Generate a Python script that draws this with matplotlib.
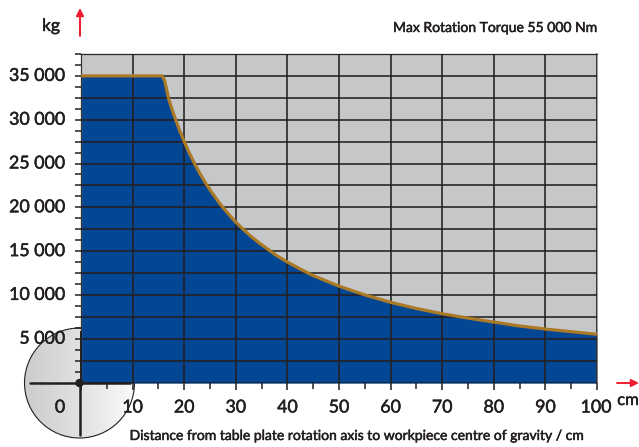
import numpy as np
import matplotlib
matplotlib.use('Agg')
import matplotlib.pyplot as plt
import matplotlib.patheffects as pe
from matplotlib.patches import Circle

plt.rcParams['font.family'] = ['Lato', 'DejaVu Sans']

# values
dist = [0, 10, 15, 15.7, 16.2, 17, 18, 19, 20, 21, 22, 23, 24, 25, 26, 27, 28, 29, 30, 31.5, 33, 34.5, 36, 38, 40, 42.5, 45, 47.5,
        50, 55, 60, 65, 70, 75, 80, 85, 90, 95, 100]
load = [35000, 35000, 35000, 35000, 34500, 32350, 30550, 28950, 27500, 26200, 25000, 23900, 22900, 22000, 21150, 20350, 19650,
        18950, 18300, 17450, 16650, 15950, 15300, 14450, 13750, 12950, 12200, 11600,
        11000, 10000, 9150, 8450, 7850, 7350, 6900, 6450, 6100, 5800, 5500]
xticks = [0, 10, 20, 30, 40, 50, 60, 70, 80, 90, 100]
yticks = [5000, 10000, 15000, 20000, 25000, 30000, 35000]
ylabels = ['5 000', '10 000', '15 000', '20 000', '25 000', '30 000', '35 000']

W, H = 639, 447
dark = '#231f20'
fig = plt.figure(figsize=(W / 100, H / 100), dpi=100)

# pixel coordinate layer for the disc, y goes down
bg = fig.add_axes([0, 0, 1, 1], zorder=0)
bg.axis('off')

grad = np.linspace(0, 1, 256).reshape(1, -1)
im = bg.imshow(grad, extent=(25, 135, 439, 328), cmap=matplotlib.colors.LinearSegmentedColormap.from_list(
    'disc', ['#cbccce', '#e0e1e2', '#fafafa']), aspect='auto', zorder=1)
clip = Circle((79.5, 383), 55, transform=bg.transData)
im.set_clip_path(clip)
bg.add_patch(Circle((79.5, 383), 55, fc='none', ec=dark, lw=0.8, zorder=2))
bg.set_xlim(0, W)
bg.set_ylim(H, 0)

# main plot
ax = fig.add_axes([81 / W, 1 - 382.5 / H, 516 / W, 328.5 / H], zorder=1)
ax.set_facecolor('#c6c7c9')
ax.set_xlim(0, 100)
ax.set_ylim(0, 37500)
ax.fill_between(dist, load, 0, color='#034694', zorder=1)
ax.set_xticks(np.arange(0, 101, 10))
ax.set_xticks(np.arange(5, 100, 10), minor=True)
ax.set_yticks(np.arange(0, 37501, 2500))
ax.set_yticks(np.arange(1250, 37500, 2500), minor=True)
ax.grid(True, which='major', color=dark, lw=1.15, zorder=2)
ax.set_axisbelow(False)
ax.plot(dist, load, color='#ab7a27', lw=2.3, zorder=4, solid_capstyle='butt', clip_on=False)
ax.spines['bottom'].set_visible(False)
ax.spines['top'].set_color('#5a5a5c')
ax.spines['top'].set_linewidth(1.0)
ax.spines['right'].set_color('#8a8b8d')
ax.spines['right'].set_linewidth(1.2)
ax.spines['left'].set_color('#77787a')
ax.spines['left'].set_linewidth(1.0)
ax.tick_params(which='major', length=5, width=1.1, color=dark, labelbottom=False, labelleft=False)
ax.tick_params(which='minor', length=4, width=1.1, color=dark)
ax.tick_params(axis='y', which='both', length=4)

# labels and overlay in pixel coordinates
top = fig.add_axes([0, 0, 1, 1], zorder=2)
top.set_xlim(0, W)
top.set_ylim(H, 0)
top.axis('off')

# crosshair on the disc
top.plot([30, 130], [383, 383], color=dark, lw=1.8, solid_capstyle='round')
top.plot([79.5, 79.5], [383, 435], color=dark, lw=1.8, solid_capstyle='round')
top.plot([80.5, 80.5], [383, 332], color=dark, lw=1.4)
top.add_patch(Circle((79.5, 383), 4.2, fc=dark, ec='none', zorder=5))

# Lato medium is not available, a thin stroke on the regular cut gets close
heavy = [pe.withStroke(linewidth=0.35, foreground=dark)]

for v, lab in zip(yticks, ylabels):
    y = 382.5 - v / 37500 * 328.5
    top.text(65, y, lab, ha='right', va='center', fontsize=12.8, color=dark, path_effects=heavy)
for v in xticks:
    # the zero sits left of the axis, on the disc
    px = 60 if v == 0 else 81 + v * 5.16 - (1 if v == 100 else 0)
    top.text(px, 407.5, str(v), ha='center', va='center', fontsize=12.8, color=dark, path_effects=heavy)

top.text(51, 26, 'kg', ha='center', va='center', fontsize=12.5, color=dark, path_effects=heavy)
top.text(598.5, 28, 'Max Rotation Torque 55 000 Nm', ha='right', va='center', fontsize=10.05, color=dark, path_effects=heavy)
top.text(358.5, 436, 'Distance from table plate rotation axis to workpiece centre of gravity / cm',
         ha='center', va='center', fontsize=10.05, color=dark, path_effects=heavy)
top.text(628, 400, 'cm', ha='center', va='center', fontsize=12, color=dark, path_effects=heavy)

red = '#ed1c2e'
top.annotate('', xy=(80, 8), xytext=(80, 36),
             arrowprops=dict(arrowstyle='-|>', color=red, lw=1.4, mutation_scale=11, shrinkA=0, shrinkB=0))
top.annotate('', xy=(639, 383), xytext=(617, 383),
             arrowprops=dict(arrowstyle='-|>', color=red, lw=1.4, mutation_scale=11, shrinkA=0, shrinkB=0))

fig.savefig('out.png', dpi=100)
